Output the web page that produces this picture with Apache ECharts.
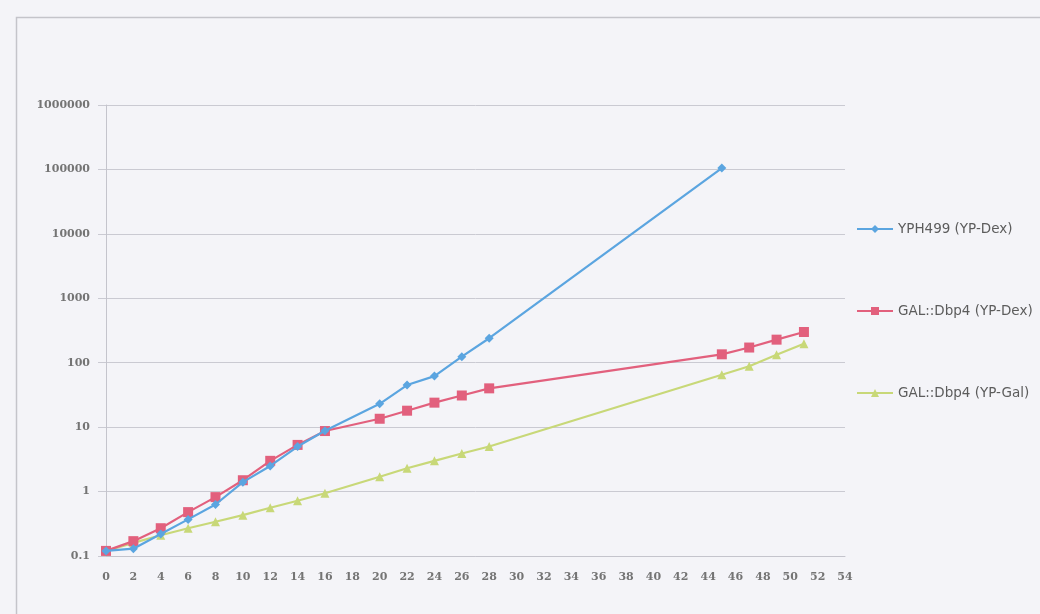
<!DOCTYPE html>
<html>
<head>
<meta charset="utf-8">
<title>Growth curves</title>
<script src="https://cdn.jsdelivr.net/npm/echarts@6/dist/echarts.min.js"></script>
<style>
  html, body { margin: 0; padding: 0; background: #f4f4f8; }
  #chart { width: 1040px; height: 614px; }
</style>
</head>
<body>
<div id="chart"></div>
<script>
// Time points (hours) and cell counts for each strain/medium
const seriesNames = ['YPH499 (YP-Dex)', 'GAL::Dbp4 (YP-Dex)', 'GAL::Dbp4 (YP-Gal)'];

const yph499Dex = [
  [0, 0.12], [2, 0.13], [4, 0.22], [6, 0.37], [8, 0.63], [10, 1.4], [12, 2.5],
  [14, 5.0], [16, 8.8], [20, 23], [22, 45], [24, 62], [26, 124], [28, 240], [45, 105000]
];
const dbp4Dex = [
  [0, 0.12], [2, 0.17], [4, 0.27], [6, 0.48], [8, 0.82], [10, 1.5], [12, 3.0],
  [14, 5.3], [16, 8.7], [20, 13.5], [22, 18], [24, 24], [26, 31], [28, 40],
  [45, 135], [47, 172], [49, 228], [51, 300]
];
const dbp4Gal = [
  [0, 0.12], [2, 0.16], [4, 0.21], [6, 0.27], [8, 0.34], [10, 0.43], [12, 0.56],
  [14, 0.72], [16, 0.94], [20, 1.7], [22, 2.3], [24, 3.0], [26, 3.9], [28, 5.0],
  [45, 65], [47, 88], [49, 133], [51, 197]
];

const xMin = 0, xMax = 54, xStep = 2;
const yMin = 0.1, yMax = 1000000;

const colors = ['#5ba5e0', '#e2607d', '#c8d878'];
const symbols = ['diamond', 'rect', 'triangle'];
const symbolSizes = [9, 10, 9];

const chart = echarts.init(document.getElementById('chart'), null, { renderer: 'canvas' });

const tickFont = { color: '#747474', fontSize: 11, fontFamily: 'DejaVu Serif', fontWeight: 'bold' };

const option = {
  backgroundColor: '#f4f4f8',
  animation: false,
  graphic: [{
    type: 'rect',
    left: 14, top: 15,
    shape: { width: 1040, height: 620 },
    style: { fill: 'none', stroke: '#c4c4ca', lineWidth: 1.5 },
    silent: true
  }],
  grid: { left: 106, right: 195, top: 105, bottom: 58, containLabel: false },
  legend: {
    orient: 'vertical',
    left: 851,
    top: 217,
    itemWidth: 36,
    itemHeight: 10,
    itemGap: 68,
    textStyle: { color: '#5c5c5c', fontSize: 13.5, fontFamily: 'DejaVu Sans' },
    data: seriesNames
  },
  xAxis: {
    type: 'value',
    min: xMin, max: xMax, interval: xStep,
    axisLine: { show: true, lineStyle: { color: '#c4c4cc', width: 1 } },
    axisTick: { show: false },
    axisLabel: Object.assign({ margin: 16 }, tickFont),
    splitLine: { show: false }
  },
  yAxis: {
    type: 'log',
    logBase: 10,
    min: yMin, max: yMax,
    axisLine: { show: true, lineStyle: { color: '#c4c4cc', width: 1 } },
    axisTick: { show: true, length: 8, lineStyle: { color: '#cacad2' } },
    axisLabel: Object.assign({
      margin: 16,
      formatter: v => String(v)
    }, tickFont),
    splitLine: { show: true, lineStyle: { color: '#cacad2', width: 1 } }
  },
  series: [yph499Dex, dbp4Dex, dbp4Gal].map((data, i) => ({
    name: seriesNames[i],
    type: 'line',
    data: data,
    symbol: symbols[i],
    symbolSize: symbolSizes[i],
    showAllSymbol: true,
    lineStyle: { color: colors[i], width: 2.2 },
    itemStyle: { color: colors[i] },
    z: 3 - i
  }))
};

chart.setOption(option);
</script>
</body>
</html>
